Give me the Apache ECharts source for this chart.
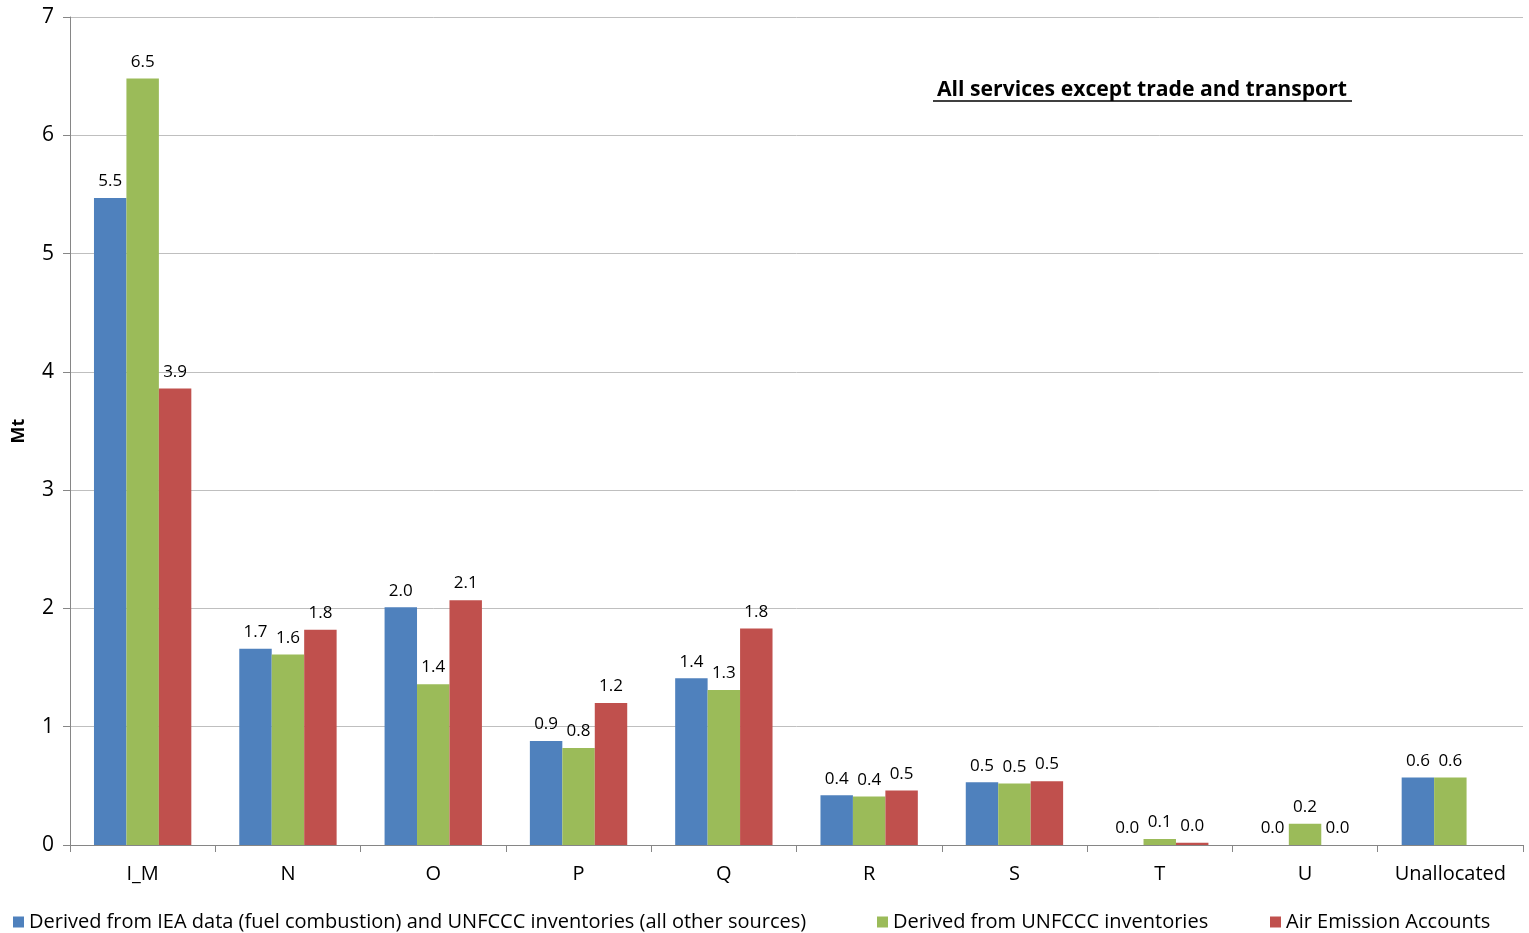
<!DOCTYPE html>
<html><head><meta charset="utf-8">
<script src="https://cdn.jsdelivr.net/npm/echarts@6/dist/echarts.min.js"></script>
<style>html,body{margin:0;padding:0;background:#fff}#c{width:1529px;height:933px}</style>
</head><body><div id="c"></div>
<script>
const categories = ['I_M','N','O','P','Q','R','S','T','U','Unallocated'];
const seriesNames = ['Derived from IEA data (fuel combustion) and UNFCCC inventories (all other sources)','Derived from UNFCCC inventories','Air Emission Accounts'];
const ieaValues = [5.47, 1.66, 2.01, 0.88, 1.41, 0.42, 0.53, 0.0, 0.0, 0.57];
const unfcccValues = [6.48, 1.61, 1.36, 0.82, 1.31, 0.41, 0.52, 0.05, 0.18, 0.57];
const aeaValues = [3.86, 1.82, 2.07, 1.20, 1.83, 0.46, 0.54, 0.02, 0.0, null];
const yTicks = [0,1,2,3,4,5,6,7];
const colors = ['#4F81BD','#9BBB59','#C0504D'];
const titleText = 'All services except trade and transport';
const yName = 'Mt';

const font = 'Open Sans';
const chart = echarts.init(document.getElementById('c'));
function mk(i, data){
  return {
    name: seriesNames[i], type:'bar', data: data,
    barGap:'0%', barCategoryGap:'33%',
    itemStyle:{color:colors[i]},
    label:{show:true, position:'top', distance:8, color:'#000', fontFamily:font, fontSize:17,
      formatter:p => p.value==null ? '' : Number(p.value).toFixed(1)}
  };
}
const legendText = {fontFamily:font, fontSize:20, color:'#000'};
chart.setOption({
  animation:false,
  textStyle:{fontFamily:font},
  title:{text:titleText, left:1137, top:74, textAlign:'center',
    textStyle:{fontFamily:font, fontSize:21.2, fontWeight:'bold', color:'#000'}},
  graphic:[{type:'line', shape:{x1:933,y1:101,x2:1352,y2:101}, style:{stroke:'#000', lineWidth:1.5}}],
  legend:[
    {data:[seriesNames[0]], left:8, top:907, itemWidth:11, itemHeight:11, itemGap:6, icon:'rect', textStyle:legendText},
    {data:[seriesNames[1]], left:872, top:907, itemWidth:11, itemHeight:11, icon:'rect', textStyle:legendText},
    {data:[seriesNames[2]], left:1265, top:907, itemWidth:11, itemHeight:11, icon:'rect', textStyle:legendText}
  ],
  grid:{left:70, right:6, top:17, bottom:88},
  xAxis:{type:'category', data:categories,
    axisLine:{lineStyle:{color:'#868686'}},
    axisTick:{show:true, alignWithLabel:false, length:7, lineStyle:{color:'#868686'}},
    axisLabel:{color:'#000', fontFamily:font, fontSize:20, margin:19}},
  yAxis:{type:'value', min:0, max:7, interval:1, name:yName, nameLocation:'middle', nameGap:42,
    nameTextStyle:{fontFamily:font, fontSize:18, fontWeight:'bold', color:'#000'},
    nameRotate:90,
    axisLine:{show:true, lineStyle:{color:'#868686'}},
    axisTick:{show:true, length:7, lineStyle:{color:'#868686'}},
    splitLine:{lineStyle:{color:'#BFBFBF'}},
    axisLabel:{color:'#000', fontFamily:font, fontSize:21, margin:16,
      formatter:v => yTicks.includes(v) ? String(v) : ''}},
  series:[mk(0, ieaValues), mk(1, unfcccValues), mk(2, aeaValues)]
});
</script></body></html>
